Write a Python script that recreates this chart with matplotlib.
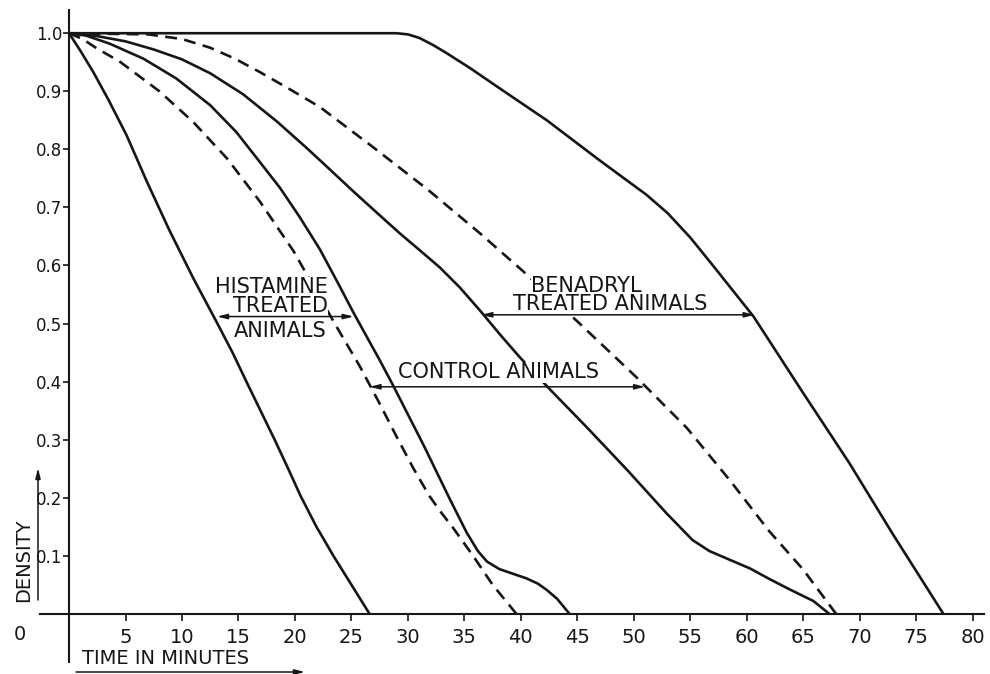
import numpy as np
import matplotlib.pyplot as plt

# values: time (minutes) vs density
histamine_a_t = [0, 1, 2.15, 3.5, 5.1, 6.9, 8.9, 11, 13, 14.5, 15.7, 17, 18.2, 19.4, 20.5,
                 21.9, 23.4, 25, 26.6]
histamine_a_d = [1.0, 0.97, 0.933, 0.885, 0.824, 0.744, 0.66, 0.578, 0.505, 0.449, 0.4,
                 0.348, 0.3, 0.25, 0.203, 0.15, 0.1, 0.05, 0.0]

histamine_b_t = [0, 1.5, 3.6, 6.6, 9.5, 12.5, 14.8, 16.9, 18.7, 20.4, 22.2, 23.8, 25.2, 27.5,
                 28.7, 31.4, 33.7, 35.2, 36.2, 37, 38.1, 39.3, 40.5, 41.5, 42.3, 43.2, 43.8, 44.3]
histamine_b_d = [1.0, 0.996, 0.982, 0.956, 0.922, 0.876, 0.83, 0.778, 0.733, 0.684, 0.628,
                 0.57, 0.518, 0.437, 0.393, 0.29, 0.198, 0.14, 0.108, 0.09, 0.077, 0.069,
                 0.061, 0.052, 0.041, 0.026, 0.012, 0.0]

control_a_t = [0, 1.2, 2.45, 4.5, 8, 11, 14, 16.9, 19.9, 21, 23.7, 25.75, 27.5, 29, 30.5,
               31.9, 33, 34, 35.8, 37.5, 39.6]
control_a_d = [1.0, 0.99, 0.974, 0.951, 0.9, 0.847, 0.784, 0.71, 0.624, 0.586, 0.494, 0.426,
               0.362, 0.305, 0.25, 0.203, 0.173, 0.148, 0.099, 0.05, 0.0]

control_b_t = [0, 7, 10, 12.5, 14.7, 16.9, 19.5, 22.2, 26.9, 31.8, 36.4, 40.2, 45.2, 50.2,
               54.7, 58.5, 62, 65, 67.9]
control_b_d = [1.0, 0.998, 0.99, 0.975, 0.956, 0.933, 0.904, 0.873, 0.804, 0.73, 0.655, 0.59,
               0.5, 0.408, 0.32, 0.23, 0.142, 0.076, 0.0]

benadryl_a_t = [0, 2.5, 5, 7.5, 10, 12.5, 15.4, 18.4, 21, 23, 25.2, 27.3, 29.3, 31, 32.8,
                34.6, 36.4, 38.2, 39.9, 42.6, 45.8, 49.4, 52.9, 55.2, 56.7, 58.5, 60.3, 62,
                63.8, 65.9, 67.3]
benadryl_a_d = [1.0, 0.995, 0.986, 0.972, 0.955, 0.931, 0.895, 0.848, 0.803, 0.767, 0.727,
                0.69, 0.655, 0.627, 0.597, 0.562, 0.522, 0.48, 0.442, 0.386, 0.322, 0.248,
                0.173, 0.127, 0.108, 0.093, 0.078, 0.06, 0.042, 0.022, 0.0]

benadryl_b_t = [0, 29, 30, 31, 32.2, 33.4, 35.5, 37.9, 42.3, 46.7, 49, 51.1, 53, 55, 57,
                60.6, 65, 69.1, 73, 77.4]
benadryl_b_d = [1.0, 1.0, 0.998, 0.992, 0.98, 0.966, 0.94, 0.908, 0.85, 0.785, 0.752, 0.722,
                0.69, 0.648, 0.6, 0.512, 0.38, 0.259, 0.135, 0.0]

x_ticks = [5, 10, 15, 20, 25, 30, 35, 40, 45, 50, 55, 60, 65, 70, 75, 80]
y_ticks = [0.1, 0.2, 0.3, 0.4, 0.5, 0.6, 0.7, 0.8, 0.9, 1.0]

ink = "#161616"

fig = plt.figure(figsize=(9.9, 6.74), dpi=100)
ax = fig.add_axes([40 / 990, 12 / 674, 944 / 990, 652 / 674])
ax.set_xlim(-2.57, 81.0)
ax.set_ylim(-0.083, 1.04)

for s in ["top", "right"]:
    ax.spines[s].set_visible(False)
for s in ["left", "bottom"]:
    ax.spines[s].set_position(("data", 0))
    ax.spines[s].set_linewidth(1.5)
    ax.spines[s].set_color(ink)

ax.set_xticks(x_ticks)
ax.set_xticklabels([str(v) for v in x_ticks])
ax.set_yticks(y_ticks)
ax.set_yticklabels([f"{v:.1f}" for v in y_ticks])
ax.tick_params(axis="x", direction="out", length=5, width=1.2, pad=5, labelsize=14, colors=ink)
ax.tick_params(axis="y", direction="out", length=4, width=1.2, pad=1, labelsize=12, colors=ink)

solid = dict(color=ink, lw=1.9, solid_joinstyle="round", solid_capstyle="round", zorder=2)
dashed = dict(color=ink, lw=1.9, linestyle=(0, (4.5, 2.8)), zorder=2)

ax.plot(histamine_a_t, histamine_a_d, **solid)
ax.plot(histamine_b_t, histamine_b_d, **solid)
ax.plot(control_a_t, control_a_d, **dashed)
ax.plot(control_b_t, control_b_d, **dashed)
ax.plot(benadryl_a_t, benadryl_a_d, **solid)
ax.plot(benadryl_b_t, benadryl_b_d, **solid)

# lettering is drawn over the curves (the curves break behind it), arrows on top
txt = dict(ha="center", va="center", fontsize=15, color=ink, zorder=4,
           bbox=dict(facecolor="white", edgecolor="none", pad=0.3))
ax.text(17.9, 0.563, "HISTAMINE", **txt)
ax.text(18.7, 0.530, "TREATED", **txt)
ax.text(18.7, 0.487, "ANIMALS", **txt)
ax.text(38.0, 0.416, "CONTROL ANIMALS", **txt)
ax.text(45.8, 0.565, "BENADRYL", **txt)
ax.text(47.9, 0.533, "TREATED ANIMALS", **txt)

arrow = dict(arrowstyle="<|-|>,head_length=0.6,head_width=0.15", lw=1.1, color=ink,
             shrinkA=0, shrinkB=0)
ax.annotate("", xy=(13.1, 0.512), xytext=(25.2, 0.512), arrowprops=arrow, zorder=5)
ax.annotate("", xy=(26.6, 0.391), xytext=(51.0, 0.391), arrowprops=arrow, zorder=5)
ax.annotate("", xy=(36.5, 0.515), xytext=(60.7, 0.515), arrowprops=arrow, zorder=5)

# origin label and axis titles sit outside the plotting box
fig.text(20 / 990, 1 - 635 / 674, "0", ha="center", va="center", fontsize=14, color=ink)
fig.text(24 / 990, 1 - 560 / 674, "DENSITY", rotation=90, ha="center", va="center",
         fontsize=14, color=ink)
fig.text(82 / 990, 1 - 659 / 674, "TIME IN MINUTES", ha="left", va="center",
         fontsize=14, color=ink)

fig_arrow = dict(arrowstyle="-|>,head_length=0.6,head_width=0.15", lw=1.1, color=ink,
                 shrinkA=0, shrinkB=0)
ax.annotate("", xy=(38, 674 - 468), xytext=(38, 674 - 600), xycoords="figure pixels",
            textcoords="figure pixels", arrowprops=fig_arrow)
ax.annotate("", xy=(305, 2), xytext=(76, 2), xycoords="figure pixels",
            textcoords="figure pixels", arrowprops=fig_arrow)

fig.savefig("out.png", dpi=100, facecolor="white")
